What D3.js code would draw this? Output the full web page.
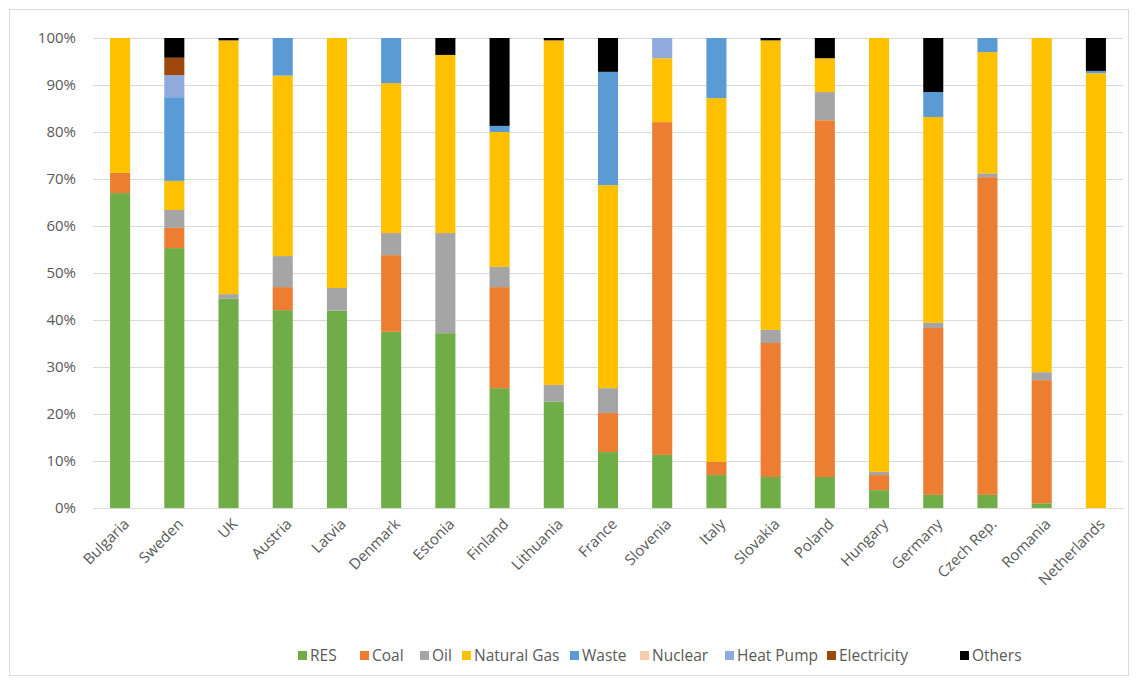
<!DOCTYPE html>
<html><head><meta charset="utf-8">
<script src="https://cdn.jsdelivr.net/npm/d3@7"></script>
<style>body{margin:0;background:#fff;} text{font-family:"Open Sans","Liberation Sans",sans-serif;}</style>
</head><body>
<svg id="c" width="1138" height="684"></svg>
<script>
const countries = ["Bulgaria","Sweden","UK","Austria","Latvia","Denmark","Estonia","Finland","Lithuania","France","Slovenia","Italy","Slovakia","Poland","Hungary","Germany","Czech Rep.","Romania","Netherlands"];
const seriesNames = ["RES","Coal","Oil","Natural Gas","Waste","Nuclear","Heat Pump","Electricity","Others"];
const RES        = [67,55.3,44.5,42.1,42,37.5,37.2,25.5,22.6,11.9,11.3,7,6.6,6.6,3.8,2.8,2.8,1,0];
const Coal       = [4.3,4.3,0,4.9,0,16.3,0,21.5,0,8.3,70.8,2.8,28.5,75.9,3.2,35.5,67.6,26.2,0];
const Oil        = [0,3.8,1,6.6,4.8,4.7,21.3,4.3,3.6,5.3,0,0,2.8,6,0.7,1.1,0.8,1.7,0];
const NaturalGas = [28.7,6.2,54,38.4,53.2,31.9,37.9,28.7,73.3,43.2,13.6,77.4,61.6,7.2,92.3,43.8,25.8,71.1,92.5];
const Waste      = [0,17.8,0,8,0,9.6,0,1.3,0,24.1,0,12.8,0,0,0,5.3,3,0,0.5];
const Nuclear    = [0,0,0,0,0,0,0,0,0,0,0,0,0,0,0,0,0,0,0];
const HeatPump   = [0,4.7,0,0,0,0,0,0,0,0,4.3,0,0,0,0,0,0,0,0];
const Electricity= [0,3.7,0,0,0,0,0,0,0,0,0,0,0,0,0,0,0,0,0];
const Others     = [0,4.2,0.5,0,0,0,3.6,18.7,0.5,7.2,0,0,0.5,4.3,0,11.5,0,0,7];
const yTicks = [0,10,20,30,40,50,60,70,80,90,100];
const colors = ["#70AD47","#ED7D31","#A5A5A5","#FFC000","#5B9BD5","#F8CBAD","#8FAADC","#9E480E","#000000"];

const seriesVals = [RES,Coal,Oil,NaturalGas,Waste,Nuclear,HeatPump,Electricity,Others];
const rows = countries.map((c,i)=>{const r={country:c}; seriesNames.forEach((s,j)=>r[s]=seriesVals[j][i]); return r;});

const svg = d3.select("#c");
svg.append("rect").attr("x",9.5).attr("y",9.5).attr("width",1119).attr("height",666).attr("fill","#fff").attr("stroke","#d9d9d9");

const x = d3.scaleBand().domain(countries).range([93,1123]).paddingInner(0.63).paddingOuter(0.315);
const y = d3.scaleLinear().domain([0,100]).range([508,38]);

svg.append("g").selectAll("line").data(yTicks).join("line")
  .attr("x1",93).attr("x2",1123).attr("y1",d=>Math.round(y(d))+0.5).attr("y2",d=>Math.round(y(d))+0.5)
  .attr("stroke","#d9d9d9").attr("stroke-width",1);

const stack = d3.stack().keys(seriesNames)(rows);
svg.append("g").selectAll("g").data(stack).join("g").attr("fill",(d,i)=>colors[i])
  .selectAll("rect").data(d=>d).join("rect")
  .attr("x",d=>x(d.data.country)).attr("width",x.bandwidth())
  .attr("y",d=>y(d[1])).attr("height",d=>Math.max(0,y(d[0])-y(d[1])));

const ya = svg.append("g").attr("transform","translate(76,0)")
  .call(d3.axisLeft(y).tickValues(yTicks).tickFormat(d=>d+"%").tickSize(0).tickPadding(0));
ya.select(".domain").remove();
ya.selectAll("text").attr("fill","#595959").style("font-size","15px").style("font-family","'Open Sans',sans-serif");

const xa = svg.append("g").attr("transform","translate(0,508)")
  .call(d3.axisBottom(x).tickSize(0).tickPadding(0));
xa.select(".domain").attr("stroke","#d9d9d9");
xa.selectAll("text").attr("fill","#595959").style("font-size","15px").style("font-family","'Open Sans',sans-serif")
  .attr("text-anchor","end").attr("dy",0).attr("y",0)
  .attr("transform","translate(10,17) rotate(-45)");

const legX = [298,360,420,462,570,640,725,827,960];
const lg = svg.append("g").selectAll("g").data(seriesNames).join("g")
  .attr("transform",(d,i)=>`translate(${legX[i]},656)`);
lg.append("rect").attr("x",0).attr("y",-5).attr("width",9).attr("height",9).attr("fill",(d,i)=>colors[i]);
lg.append("text").attr("x",12).attr("y",5).text(d=>d).attr("fill","#595959").style("font-size","15.5px");
</script>
</body></html>
